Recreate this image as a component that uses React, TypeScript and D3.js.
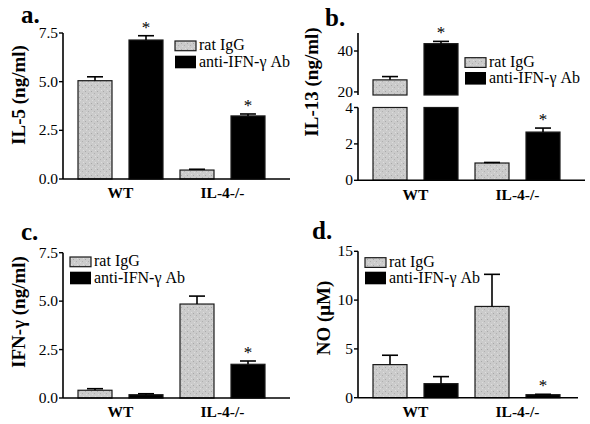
import React from "react";
import * as d3 from "d3";

const FONT = "Liberation Serif, Times New Roman, DejaVu Serif, serif";

const groups = ["WT", "IL-4-/-"];
const seriesNames = ["rat IgG", "anti-IFN-γ Ab"];

// Panel a: IL-5 (ng/ml)
const il5Rat = [5.05, 0.46];
const il5RatErr = [0.2, 0.04];
const il5Anti = [7.14, 3.24];
const il5AntiErr = [0.22, 0.1];
const il5Sig = [true, true];
const il5Ticks = [0, 2.5, 5, 7.5];

// Panel b: IL-13 (ng/ml), broken axis
const il13Rat = [25.9, 0.95];
const il13RatErr = [1.6, 0.03];
const il13Anti = [43.6, 2.65];
const il13AntiErr = [1.1, 0.22];
const il13Sig = [true, true];
const il13LowTicks = [0, 2, 4];
const il13HighTicks = [20, 40];

// Panel c: IFN-γ (ng/ml)
const ifnRat = [0.4, 4.85];
const ifnRatErr = [0.08, 0.41];
const ifnAnti = [0.17, 1.74];
const ifnAntiErr = [0.05, 0.17];
const ifnSig = [false, true];
const ifnTicks = [0, 2.5, 5, 7.5];

// Panel d: NO (μM)
const noRat = [3.39, 9.35];
const noRatErr = [0.96, 3.29];
const noAnti = [1.44, 0.31];
const noAntiErr = [0.72, 0.04];
const noSig = [false, true];
const noTicks = [0, 5, 10, 15];

type Seg = { d: [number, number]; r: [number, number]; ticks: number[]; fmt: (n: number) => string };

type PanelProps = {
  ox: number;
  label: string;
  labelXY: [number, number];
  yTitle: string;
  titleXY: [number, number];
  segs: Seg[];
  rat: number[];
  ratErr: number[];
  anti: number[];
  antiErr: number[];
  sig: boolean[];
  axisEnd: number;
  legend: [number, number, number];
  xLabelY: number;
};

const txt = { fontFamily: FONT, fill: "#000" } as const;

function Panel(p: PanelProps) {
  const scales = p.segs.map((s) => d3.scaleLinear().domain(s.d).range(s.r));
  const axisX = p.ox + 63;
  const gx = d3.scaleBand<string>().domain(groups).range([p.ox + 69.5, p.ox + 273.5]);
  const sx = d3
    .scaleBand<string>()
    .domain(seriesNames)
    .range([0, gx.bandwidth()])
    .paddingInner(1 / 3)
    .paddingOuter(1 / 6);
  const yOf = (v: number) => {
    let idx = 0;
    p.segs.forEach((s, i) => {
      if (v >= s.d[0]) idx = i;
    });
    return scales[idx](v);
  };
  const barSegs = (v: number) => {
    const out: [number, number][] = [];
    p.segs.forEach((s, i) => {
      if (v > s.d[0]) {
        const top = Math.min(v, s.d[1]);
        out.push([scales[i](s.d[0]), scales[i](top)]);
      }
    });
    return out;
  };
  const baseY = p.segs[0].r[0];
  const bars: any[] = [];
  groups.forEach((g, gi) => {
    [
      { name: seriesNames[0], v: p.rat[gi], e: p.ratErr[gi], fill: "url(#stipple)", sig: false },
      { name: seriesNames[1], v: p.anti[gi], e: p.antiErr[gi], fill: "#000", sig: p.sig[gi] },
    ].forEach((b, si) => {
      const x0 = (gx(g) as number) + (sx(b.name) as number);
      const w = sx.bandwidth();
      const cx = x0 + w / 2;
      const yTop = yOf(b.v);
      const yErr = yOf(b.v + b.e);
      bars.push(
        <g key={`${gi}-${si}`}>
          {barSegs(b.v).map(([y0, y1], k) => (
            <rect
              key={k}
              x={x0}
              y={y1}
              width={w}
              height={y0 - y1}
              fill={b.fill}
              stroke="#1a1a1a"
              strokeWidth={1.2}
            />
          ))}
          <line x1={cx} x2={cx} y1={yTop} y2={yErr} stroke="#000" strokeWidth={1.6} />
          <line x1={cx - 8} x2={cx + 8} y1={yErr} y2={yErr} stroke="#000" strokeWidth={1.6} />
          {b.sig && (
            <text x={cx} y={yErr - 3} textAnchor="middle" fontSize={17} style={txt}>
              *
            </text>
          )}
        </g>
      );
    });
  });

  const [lx, lb1, lb2] = p.legend;
  return (
    <g>
      <text x={p.labelXY[0]} y={p.labelXY[1]} fontSize={25} fontWeight="bold" style={txt}>
        {p.label}
      </text>
      <text
        transform={`translate(${p.titleXY[0]},${p.titleXY[1]}) rotate(-90)`}
        textAnchor="middle"
        fontSize={19}
        fontWeight="bold"
        style={txt}
      >
        {p.yTitle}
      </text>
      {p.segs.map((s, i) => (
        <g key={i}>
          <line x1={axisX} x2={axisX} y1={s.r[0]} y2={s.r[1]} stroke="#000" strokeWidth={1.6} />
          {s.ticks.map((t) => (
            <g key={t}>
              <line
                x1={axisX - 4}
                x2={axisX}
                y1={scales[i](t)}
                y2={scales[i](t)}
                stroke="#000"
                strokeWidth={1.4}
              />
              <text x={axisX - 5} y={scales[i](t) + 5} textAnchor="end" fontSize={15.5} style={txt}>
                {s.fmt(t)}
              </text>
            </g>
          ))}
        </g>
      ))}
      {bars}
      <line x1={axisX} x2={p.axisEnd} y1={baseY} y2={baseY} stroke="#000" strokeWidth={1.6} />
      {groups.map((g) => (
        <text
          key={g}
          x={(gx(g) as number) + gx.bandwidth() / 2}
          y={p.xLabelY}
          textAnchor="middle"
          fontSize={15.5}
          fontWeight="bold"
          style={txt}
        >
          {g}
        </text>
      ))}
      <rect x={lx} y={lb1 - 9} width={21} height={9.7} fill="url(#stipple)" stroke="#1a1a1a" strokeWidth={1.2} />
      <rect x={lx} y={lb2 - 11.3} width={21} height={12.6} fill="#000" />
      <text x={lx + 24} y={lb1} fontSize={16} style={txt}>
        {seriesNames[0]}
      </text>
      <text x={lx + 24} y={lb2} fontSize={16} style={txt}>
        {seriesNames[1]}
      </text>
    </g>
  );
}

const f1 = (n: number) => d3.format(".1f")(n);
const f0 = (n: number) => d3.format("d")(n);

export default function App() {
  return (
    <svg
      width={590}
      height={424}
      style={{ position: "absolute", left: 0, top: 0, background: "#fff" }}
    >
      <defs>
        <pattern id="stipple" width={6} height={6} patternUnits="userSpaceOnUse">
          <rect width={6} height={6} fill="#cbcbcb" />
          <rect x={1} y={1} width={1} height={1} fill="#a8a8a8" />
          <rect x={4} y={3} width={1} height={1} fill="#b0b0b0" />
          <rect x={2} y={4} width={1} height={1} fill="#dcdcdc" />
          <rect x={5} y={0} width={1} height={1} fill="#dedede" />
        </pattern>
      </defs>
      <rect width={590} height={424} fill="#fff" />
      <Panel
        ox={0}
        label="a."
        labelXY={[21, 23]}
        yTitle="IL-5 (ng/ml)"
        titleXY={[25, 95]}
        segs={[{ d: [0, 7.5], r: [179, 33], ticks: il5Ticks, fmt: f1 }]}
        rat={il5Rat}
        ratErr={il5RatErr}
        anti={il5Anti}
        antiErr={il5AntiErr}
        sig={il5Sig}
        axisEnd={290}
        legend={[175, 50, 67]}
        xLabelY={198}
      />
      <Panel
        ox={295}
        label="b."
        labelXY={[325, 26]}
        yTitle="IL-13 (ng/ml)"
        titleXY={[318, 82]}
        segs={[
          { d: [0, 4], r: [180.3, 107.5], ticks: il13LowTicks, fmt: f0 },
          { d: [18.5, 48.8], r: [95, 33], ticks: il13HighTicks, fmt: f0 },
        ]}
        rat={il13Rat}
        ratErr={il13RatErr}
        anti={il13Anti}
        antiErr={il13AntiErr}
        sig={il13Sig}
        axisEnd={585}
        legend={[465, 66.7, 83.3]}
        xLabelY={200}
      />
      <Panel
        ox={0}
        label="c."
        labelXY={[21, 240]}
        yTitle="IFN-γ (ng/ml)"
        titleXY={[25, 312]}
        segs={[{ d: [0, 7.5], r: [398, 252.7], ticks: ifnTicks, fmt: f1 }]}
        rat={ifnRat}
        ratErr={ifnRatErr}
        anti={ifnAnti}
        antiErr={ifnAntiErr}
        sig={ifnSig}
        axisEnd={290}
        legend={[70, 266, 283]}
        xLabelY={417}
      />
      <Panel
        ox={295}
        label="d."
        labelXY={[312, 238.7]}
        yTitle="NO (μM)"
        titleXY={[330, 318]}
        segs={[{ d: [0, 15], r: [397.7, 251.3], ticks: noTicks, fmt: f0 }]}
        rat={noRat}
        ratErr={noRatErr}
        anti={noAnti}
        antiErr={noAntiErr}
        sig={noSig}
        axisEnd={578}
        legend={[365, 266.7, 283]}
        xLabelY={417}
      />
    </svg>
  );
}
